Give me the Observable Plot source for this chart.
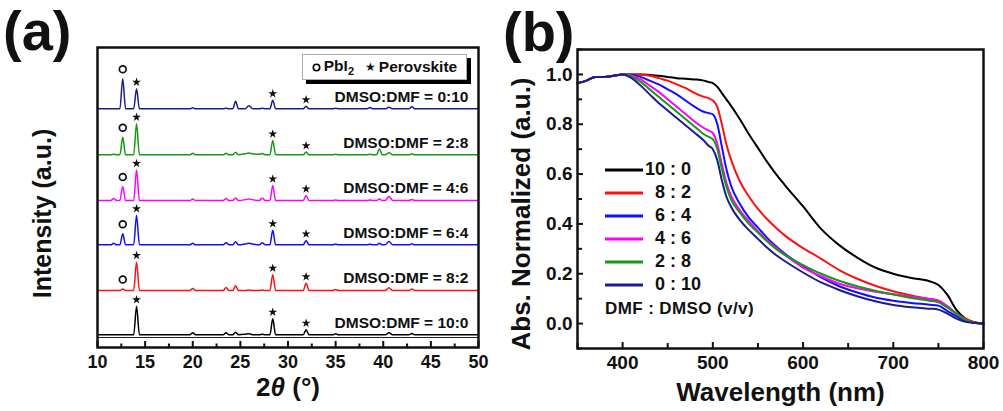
<!DOCTYPE html>
<html><head><meta charset="utf-8">
<script src="https://cdn.jsdelivr.net/npm/d3@7"></script>
<script src="https://cdn.jsdelivr.net/npm/@observablehq/plot@0.6"></script>
<style>
html,body{margin:0;padding:0;background:#fff;}
#wrap{position:relative;width:1003px;height:411px;overflow:hidden;font-family:"Liberation Sans",Arial,sans-serif;font-weight:bold;color:#111;}
#pa,#pb{position:absolute;top:0;}
#pa{left:0;} #pb{left:500px;}
.plabel{position:absolute;font-size:56px;line-height:56px;font-weight:bold;}
#legA{position:absolute;left:302px;top:54px;width:165px;height:26px;box-sizing:border-box;border:1px solid #aaa;box-shadow:4px 4px 0 #000;background:#fff;font-size:15.5px;display:flex;align-items:center;justify-content:center;gap:3px;white-space:nowrap;}
#legA sub{font-size:11px;vertical-align:-4px;}
#legA .star{font-family:"DejaVu Sans";font-size:12px;margin-left:8px;}
#legB{position:absolute;left:605px;top:158px;}
#legB .row{height:23px;display:flex;align-items:center;font-size:18px;white-space:pre;}
#legB .note{font-size:17px;margin-top:1px;letter-spacing:0.4px;}
</style></head><body>
<div id="wrap">
  <div id="pa"></div><div id="pb"></div>
  <div class="plabel" style="left:3px;top:3px">(a)</div>
  <div class="plabel" style="left:503px;top:4px">(b)</div>
  <div id="legA"><svg width="9" height="9"><circle cx="4.5" cy="4.5" r="3.2" fill="none" stroke="#000" stroke-width="1.6"/></svg><span>PbI<sub>2</sub></span><span class="star">★</span><span>Perovskite</span></div>
  <div id="legB"></div>
</div>
<script>
// ---------- Panel (a): XRD patterns ----------
const twoTheta = [10,11.4,11.7,12.0,12.35,12.65,12.95,13.8,14.1,14.4,19.7,20.0,20.3,23.2,23.5,23.8,24.2,24.5,24.8,25.5,25.9,26.3,27.0,27.3,27.6,28.1,28.4,28.7,31.6,31.9,32.2,34.7,35.0,35.3,38.3,38.6,38.9,39.3,39.6,39.9,40.2,40.6,41.0,42.7,43.0,43.3,50];
const xrdLabels = ["DMSO:DMF = 10:0","DMSO:DMF = 8:2","DMSO:DMF = 6:4","DMSO:DMF = 4:6","DMSO:DMF = 2:8","DMSO:DMF = 0:10"];
const xrdOffsets = [12.7, 57, 102.7, 147, 192.7, 238.7];
const xrd_10_0 = [0,0,0,0,0,0,0,0,28.5,0, 0,2,0, 0,2,0, 0,2.5,0, 0.5,1,0, 0,0.5,0, 0,16,0, 0,5,0, 0,1,0, 0,0,0, 0,0,0, 0,2,0, 0,1.3,0, 0];
const xrd_8_2  = [0,0,0,0,0,1.5,0,0,28.5,0, 0,2,0, 0,3,0, 0,4.7,0, 0,0.5,0, 0,0.5,0, 0,15.7,0, 0,7.3,0, 0,1,0, 0,0,0, 0,0,0, 0,2.7,0, 0,1.5,0, 0];
const xrd_6_4  = [0,0,1.5,0,0,11,0,0,29.5,0, 0,1.5,0, 0,2,0, 0,3,0, 0.8,1.5,0.8, 0,2,0, 0,14.5,0, 0,4.3,0, 0,0.7,0, 0,0.5,0, 0,1.5,0, 0,3.3,0, 0,1,0, 0];
const xrd_4_6  = [0,0,2,0,0,14,0,0,30.5,0, 0,1.5,0, 0,2,0, 0,2.5,0, 0.8,1.5,0.8, 0,2.5,0, 0,15,0, 0,5,0, 0,0.5,0, 0,0.5,0, 0,1.5,0, 0,4,0, 0,1,0, 0];
const xrd_2_8  = [0,0,0.5,0,0,17.5,0,0,31,0, 0,1.5,0, 0,1.5,0, 0,2.5,0, 1,1.8,1, 0.5,1.2,0, 0,14.3,0, 0,2.7,0, 0,0.5,0, 0,0.5,0, 0,6,0, 0,2,0, 0,1,0, 0];
const xrd_0_10 = [0,0,0,0,0,30,0,0,20,0, 0,1,0, 0,0.5,0, 0,7.5,0, 0,3,0, 0,0.5,0, 0,8.5,0, 0,2.5,0, 0,0.5,0, 0,1.2,0, 0,0,0, 0,1.5,0, 0,2,0, 0];
const pbi2Peak = 12.65;
const pbi2Series = [1,2,3,4,5];
const perovskitePeaks = [14.1, 28.4, 31.9];
const xTicksA = [10,15,20,25,30,35,40,45,50];
const xMinorA = [12.5,17.5,22.5,27.5,32.5,37.5,42.5,47.5];
const axisOffsetLine = [10];

// ---------- Panel (b): absorption ----------
const wavelength = [350,360,370,380,390,400,410,420,430,440,450,460,470,480,490,495,500,505,510,515,520,530,540,550,560,570,580,600,620,640,660,680,700,720,740,750,760,770,780,790,800];
const absLabels = ["10 : 0","8 : 2","6 : 4","4 : 6","2 : 8","0 : 10"];
const abs_10_0 = [.965,.975,.99,.99,.995,1.0,1.0,1.0,.998,.995, .99,.985,.983,.98,.975,.97,.965,.95,.925,.9, .875,.82,.76,.705,.65,.60,.555,.47,.38,.315, .265,.225,.2,.183,.17,.155,.115,.055,.02,.005, 0];
const abs_8_2  = [.965,.975,.99,.99,.995,1.0,1.0,1.0,.995,.985, .975,.96,.945,.925,.91,.905,.895,.87,.80,.72, .66,.57,.51,.46,.42,.385,.353,.303,.26,.215, .18,.152,.13,.113,.097,.088,.065,.04,.02,.005, 0];
const abs_6_4  = [.965,.975,.99,.99,.995,1.0,.998,.99,.975,.96, .94,.92,.895,.87,.85,.845,.84,.80,.71,.62, .555,.48,.425,.385,.345,.31,.28,.23,.185,.15, .125,.105,.092,.083,.076,.072,.05,.03,.012,.003, 0];
const abs_4_6  = [.965,.975,.99,.99,.995,1.0,.995,.98,.955,.93, .9,.87,.84,.81,.785,.775,.765,.72,.64,.565, .515,.455,.41,.37,.335,.305,.275,.225,.19,.16, .142,.128,.118,.108,.1,.093,.07,.04,.015,.003, 0];
const abs_2_8  = [.965,.975,.99,.99,.995,1.0,.992,.97,.94,.91, .88,.85,.82,.79,.76,.75,.74,.70,.62,.55, .50,.445,.40,.365,.33,.30,.275,.235,.2,.172, .15,.132,.117,.103,.092,.085,.065,.04,.015,.003, 0];
const abs_0_10 = [.965,.975,.99,.99,.995,1.0,.985,.955,.92,.885, .855,.825,.795,.765,.735,.715,.70,.655,.575,.51, .47,.415,.375,.34,.305,.275,.25,.205,.165,.135, .11,.09,.075,.066,.06,.056,.04,.02,.007,.002, 0];
const xTicksB = [400,500,600,700,800];
const xMinorB = [350,450,550,650,750];
const yTicksB = [0,0.2,0.4,0.6,0.8,1.0];
const yMinorB = [-0.1,0.1,0.3,0.5,0.7,0.9,1.1];
const legendNote = "DMF : DMSO (v/v)";

// ---------- styles ----------
const seriesColors = ["#000000","#ff1010","#1010ff","#ff00ff","#159a15","#1c1c8c"];
const font = '"Liberation Sans", Arial, sans-serif';
const H = 411;

// ----- build panel (a)
const xrdSeries = [xrd_10_0, xrd_8_2, xrd_6_4, xrd_4_6, xrd_2_8, xrd_0_10];
const rowsA = [];
xrdSeries.forEach((vals, i) => vals.forEach((v, j) => rowsA.push({t: twoTheta[j], y: xrdOffsets[i] + v, s: xrdLabels[i]})));
const valAt = (i, t) => xrdOffsets[i] + xrdSeries[i][twoTheta.indexOf(t)];
const circleRows = pbi2Series.map(i => ({t: pbi2Peak, y: valAt(i, pbi2Peak)}));
const starRows = [];
xrdSeries.forEach((_, i) => perovskitePeaks.forEach(t => starRows.push({t, y: valAt(i, t)})));

const mA = {top: 47, right: 22, bottom: 64, left: 97};
const WA = 500;
const innerHA = H - mA.top - mA.bottom;
const plotA = Plot.plot({
  width: WA, height: H,
  marginTop: mA.top, marginRight: mA.right, marginBottom: mA.bottom, marginLeft: mA.left,
  x: {domain: [10, 50], label: null},
  y: {domain: [0, 300], axis: null, label: null},
  color: {domain: xrdLabels, range: seriesColors},
  style: {fontFamily: font, fontWeight: "bold", fontSize: "18px", background: "transparent", color: "#111", overflow: "visible"},
  marks: [
    Plot.ruleY(axisOffsetLine, {y: d => d, stroke: "#222", strokeWidth: 1}),
    Plot.line(rowsA, {x: "t", y: "y", z: "s", stroke: "s", strokeWidth: 1.5, curve: "monotone-x"}),
    Plot.dot(circleRows, {x: "t", y: "y", symbol: "circle", r: 3.4, stroke: "#111", strokeWidth: 1.7, fill: "none", dy: -9.5}),
    Plot.dot(starRows, {x: "t", y: "y", symbol: "star", r: 2.8, fill: "#111", stroke: "none", dy: -6.5}),
    Plot.text(xrdLabels, {y: (d, i) => xrdOffsets[i], text: d => d, frameAnchor: "right", textAnchor: "end", dx: -10, dy: -12, fontSize: 15.5, fill: "#111"}),
    Plot.ruleX(xTicksA, {x: d => d, insetTop: innerHA - 6, stroke: "#111", strokeWidth: 2}),
    Plot.ruleX(xMinorA, {x: d => d, insetTop: innerHA - 3.5, stroke: "#111", strokeWidth: 2}),
    Plot.axisX(xTicksA, {tickSize: 0, tickPadding: 8, tickFormat: d => String(d), label: null, fontSize: 18}),
    Plot.frame({stroke: "#111", strokeWidth: 2.5}),
    Plot.text(["Intensity (a.u.)"], {frameAnchor: "left", textAnchor: "middle", lineAnchor: "middle", rotate: -90, dx: -55, dy: 16, fontSize: 25, fill: "#111"}),
    Plot.text(["2θ (°)"], {frameAnchor: "bottom", textAnchor: "middle", lineAnchor: "middle", dy: 40, fontSize: 26, fill: "#111"})
  ]
});
document.getElementById("pa").appendChild(plotA);
plotA.querySelectorAll("text").forEach(el => {
  if (el.textContent === "2θ (°)") el.innerHTML = '2<tspan font-style="italic">θ</tspan> (°)';
});

// ----- build panel (b)
const absSeries = [abs_10_0, abs_8_2, abs_6_4, abs_4_6, abs_2_8, abs_0_10];
const rowsB = [];
absSeries.forEach((vals, i) => vals.forEach((v, j) => rowsB.push({w: wavelength[j], v, s: absLabels[i]})));
const mB = {top: 49, right: 20, bottom: 63, left: 77};
const WB = 503;
const innerHB = H - mB.top - mB.bottom;
const innerWB = WB - mB.left - mB.right;
const plotB = Plot.plot({
  width: WB, height: H,
  marginTop: mB.top, marginRight: mB.right, marginBottom: mB.bottom, marginLeft: mB.left,
  x: {domain: [350, 800], label: null},
  y: {domain: [-0.1, 1.1], label: null},
  color: {domain: absLabels, range: seriesColors},
  style: {fontFamily: font, fontWeight: "bold", fontSize: "19px", background: "transparent", color: "#111", overflow: "visible"},
  marks: [
    Plot.line(rowsB, {x: "w", y: "v", z: "s", stroke: "s", strokeWidth: 2, curve: "monotone-x"}),
    Plot.ruleX(xTicksB, {x: d => d, insetTop: innerHB - 6, stroke: "#111", strokeWidth: 2}),
    Plot.ruleX(xMinorB, {x: d => d, insetTop: innerHB - 5, stroke: "#111", strokeWidth: 2}),
    Plot.ruleY(yTicksB, {y: d => d, insetRight: innerWB - 6, stroke: "#111", strokeWidth: 2}),
    Plot.ruleY(yMinorB, {y: d => d, insetRight: innerWB - 5, stroke: "#111", strokeWidth: 2}),
    Plot.axisX(xTicksB, {tickSize: 0, tickPadding: 7, tickFormat: d => String(d), label: null, fontSize: 19}),
    Plot.axisY(yTicksB, {tickSize: 0, tickPadding: 5, tickFormat: d3.format(".1f"), label: null, fontSize: 19}),
    Plot.frame({stroke: "#111", strokeWidth: 2.5}),
    Plot.text(["Abs. Normalized (a.u.)"], {frameAnchor: "left", textAnchor: "middle", lineAnchor: "middle", rotate: -90, dx: -56, dy: 15, fontSize: 26, fill: "#111"}),
    Plot.text(["Wavelength (nm)"], {frameAnchor: "bottom", textAnchor: "middle", lineAnchor: "middle", dy: 44, fontSize: 26, fill: "#111"})
  ]
});
document.getElementById("pb").appendChild(plotB);

// ----- legend (b)
const legB = document.getElementById("legB");
absLabels.forEach((lab, i) => {
  const row = document.createElement("div");
  row.className = "row";
  const pad = lab.indexOf(" ") === 1 ? "\u2007" : "";
  row.innerHTML = `<svg width="40" height="6"><line x1="0" y1="3" x2="38" y2="3" stroke="${seriesColors[i]}" stroke-width="3"/></svg><span>${pad}${lab}</span>`;
  legB.appendChild(row);
});
const note = document.createElement("div");
note.className = "row note";
note.textContent = legendNote;
legB.appendChild(note);
</script>
</body></html>
